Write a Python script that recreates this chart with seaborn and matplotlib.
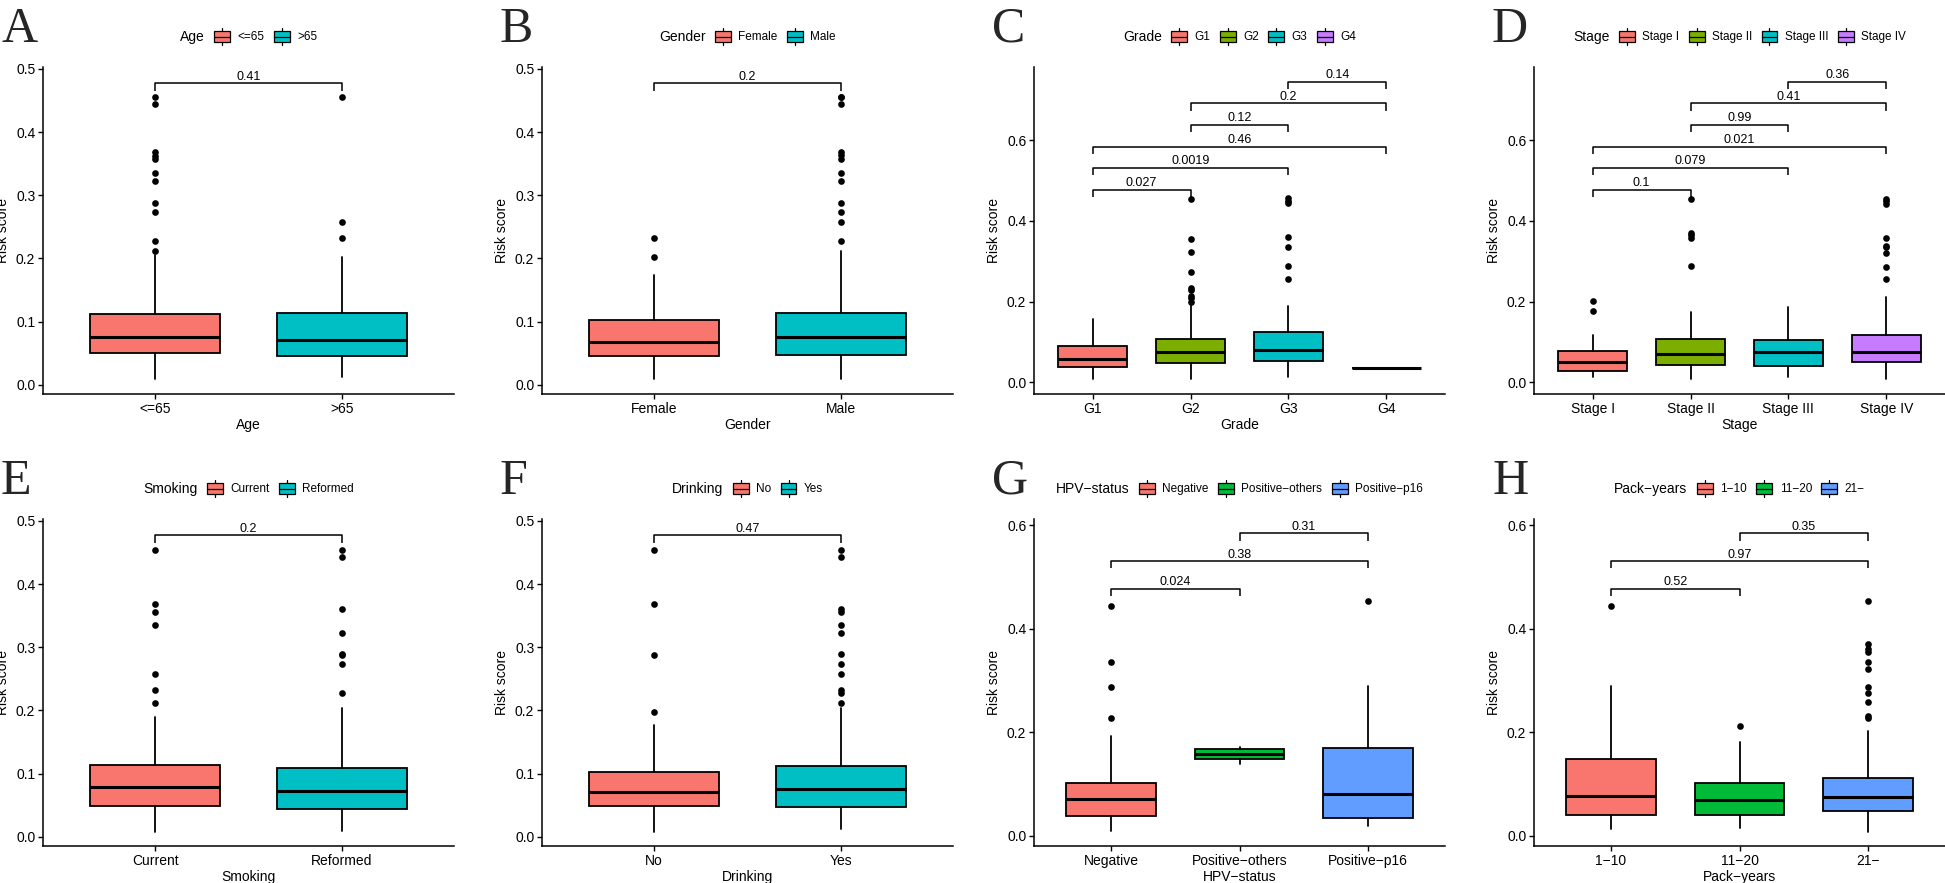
import matplotlib
matplotlib.use("Agg")
import matplotlib.pyplot as plt
from matplotlib.patches import Rectangle
from matplotlib.lines import Line2D
from matplotlib.offsetbox import AnchoredOffsetbox, HPacker, TextArea, DrawingArea
from itertools import combinations
import seaborn as sns
import pandas as pd

# box stats per group: [lower whisker, Q1, median, Q3, upper whisker]
age_groups = ["<=65", ">65"]
age_stats = [[0.009, 0.050, 0.075, 0.112, 0.205],
             [0.012, 0.045, 0.071, 0.113, 0.202]]
age_outliers = [[0.212, 0.228, 0.274, 0.288, 0.323, 0.335, 0.357, 0.362, 0.369, 0.444, 0.455],
                [0.233, 0.258, 0.455]]
age_pvals = ["0.41"]

gender_groups = ["Female", "Male"]
gender_stats = [[0.0095, 0.045, 0.068, 0.103, 0.174],
                [0.009, 0.047, 0.075, 0.113, 0.212]]
gender_outliers = [[0.202, 0.233],
                   [0.228, 0.258, 0.274, 0.288, 0.323, 0.335, 0.357, 0.363, 0.369, 0.444, 0.455, 0.456]]
gender_pvals = ["0.2"]

grade_groups = ["G1", "G2", "G3", "G4"]
grade_stats = [[0.009, 0.037, 0.058, 0.089, 0.157],
               [0.009, 0.047, 0.0745, 0.108, 0.195],
               [0.012, 0.053, 0.080, 0.124, 0.190],
               [0.035, 0.035, 0.035, 0.035, 0.035]]
grade_outliers = [[],
                  [0.200, 0.208, 0.214, 0.228, 0.233, 0.273, 0.323, 0.356, 0.454],
                  [0.257, 0.288, 0.335, 0.361, 0.444, 0.450, 0.456],
                  []]
grade_pvals = ["0.027", "0.0019", "0.46", "0.12", "0.2", "0.14"]

stage_groups = ["Stage I", "Stage II", "Stage III", "Stage IV"]
stage_stats = [[0.012, 0.029, 0.050, 0.077, 0.118],
               [0.009, 0.044, 0.070, 0.108, 0.175],
               [0.013, 0.041, 0.0745, 0.106, 0.187],
               [0.008, 0.0505, 0.076, 0.116, 0.211]]
stage_outliers = [[0.176, 0.201],
                  [0.288, 0.358, 0.364, 0.369, 0.454],
                  [],
                  [0.257, 0.286, 0.321, 0.334, 0.338, 0.357, 0.442, 0.449, 0.455]]
stage_pvals = ["0.1", "0.079", "0.021", "0.99", "0.41", "0.36"]

smoking_groups = ["Current", "Reformed"]
smoking_stats = [[0.008, 0.049, 0.078, 0.114, 0.190],
                 [0.009, 0.044, 0.072, 0.108, 0.203]]
smoking_outliers = [[0.212, 0.233, 0.258, 0.335, 0.356, 0.369, 0.454],
                    [0.228, 0.274, 0.287, 0.289, 0.323, 0.361, 0.443, 0.454]]
smoking_pvals = ["0.2"]

drinking_groups = ["No", "Yes"]
drinking_stats = [[0.008, 0.049, 0.0705, 0.102, 0.177],
                  [0.012, 0.047, 0.075, 0.112, 0.203]]
drinking_outliers = [[0.198, 0.287, 0.369, 0.454],
                     [0.212, 0.228, 0.233, 0.258, 0.274, 0.289, 0.323, 0.335, 0.356, 0.361, 0.443, 0.454]]
drinking_pvals = ["0.47"]

hpv_groups = ["Negative", "Positive\u2212others", "Positive\u2212p16"]
hpv_stats = [[0.009, 0.0375, 0.070, 0.102, 0.192],
             [0.1385, 0.148, 0.158, 0.167, 0.172],
             [0.019, 0.035, 0.080, 0.170, 0.289]]
hpv_outliers = [[0.228, 0.287, 0.335, 0.444],
                [],
                [0.454]]
hpv_pvals = ["0.024", "0.38", "0.31"]

pack_groups = ["1\u221210", "11\u221220", "21\u2212"]
pack_stats = [[0.012, 0.039, 0.077, 0.149, 0.289],
              [0.015, 0.040, 0.0686, 0.101, 0.181],
              [0.008, 0.047, 0.0744, 0.111, 0.203]]
pack_outliers = [[0.443],
                 [0.212],
                 [0.228, 0.232, 0.258, 0.276, 0.287, 0.322, 0.335, 0.355, 0.361, 0.370, 0.454]]
pack_pvals = ["0.52", "0.97", "0.35"]

hue2 = ["#F8766D", "#00BFC4"]
hue3 = ["#F8766D", "#00BA38", "#619CFF"]
hue4 = ["#F8766D", "#7CAE00", "#00BFC4", "#C77CFF"]

ticks_05 = [0.0, 0.1, 0.2, 0.3, 0.4, 0.5]
ticks_06 = [0.0, 0.2, 0.4, 0.6]

panels = [
    dict(letter="A", title="Age", groups=age_groups, stats=age_stats, outliers=age_outliers,
         pvals=age_pvals, colors=hue2, ylim=(-0.0147, 0.503), yticks=ticks_05),
    dict(letter="B", title="Gender", groups=gender_groups, stats=gender_stats, outliers=gender_outliers,
         pvals=gender_pvals, colors=hue2, ylim=(-0.0147, 0.503), yticks=ticks_05),
    dict(letter="C", title="Grade", groups=grade_groups, stats=grade_stats, outliers=grade_outliers,
         pvals=grade_pvals, colors=hue4, ylim=(-0.029, 0.781), yticks=ticks_06),
    dict(letter="D", title="Stage", groups=stage_groups, stats=stage_stats, outliers=stage_outliers,
         pvals=stage_pvals, colors=hue4, ylim=(-0.029, 0.781), yticks=ticks_06),
    dict(letter="E", title="Smoking", groups=smoking_groups, stats=smoking_stats, outliers=smoking_outliers,
         pvals=smoking_pvals, colors=hue2, ylim=(-0.0147, 0.503), yticks=ticks_05),
    dict(letter="F", title="Drinking", groups=drinking_groups, stats=drinking_stats, outliers=drinking_outliers,
         pvals=drinking_pvals, colors=hue2, ylim=(-0.0147, 0.503), yticks=ticks_05),
    dict(letter="G", title="HPV\u2212status", groups=hpv_groups, stats=hpv_stats, outliers=hpv_outliers,
         pvals=hpv_pvals, colors=hue3, ylim=(-0.020, 0.612), yticks=ticks_06),
    dict(letter="H", title="Pack\u2212years", groups=pack_groups, stats=pack_stats, outliers=pack_outliers,
         pvals=pack_pvals, colors=hue3, ylim=(-0.020, 0.612), yticks=ticks_06),
]

sns.set_style("ticks")
plt.rcParams['font.family'] = ['Liberation Sans', 'DejaVu Sans']

W, H = 1945, 883
fig = plt.figure(figsize=(W / 100, H / 100), dpi=100)

col_left = [43, 542, 1034, 1534]
row_top = [67, 519]
ax_w, ax_h = 411, 327


def add_key(ax, title, groups, colors):
    items = [TextArea(title, textprops=dict(fontsize=10, color="black"))]
    for g, c in zip(groups, colors):
        da = DrawingArea(12, 12, 0, 0)
        da.add_artist(Line2D([6, 6], [0, 12], color="black", lw=0.9))
        da.add_artist(Rectangle((0.3, 1.8), 11.4, 8.4, facecolor=c, edgecolor="black", lw=0.9))
        da.add_artist(Line2D([0.3, 11.7], [6, 6], color="black", lw=0.9))
        lab = TextArea(g, textprops=dict(fontsize=8.5, color="black"))
        items.append(HPacker(children=[da, lab], pad=0, sep=5, align="center"))
    box = HPacker(children=items, pad=0, sep=6.5, align="center")
    anc = AnchoredOffsetbox(loc="center", child=box, pad=0, borderpad=0, frameon=False,
                            bbox_to_anchor=(0.5, 1.093), bbox_transform=ax.transAxes)
    ax.add_artist(anc)


for k, p in enumerate(panels):
    r, c = divmod(k, 4)
    left = col_left[c] / W
    bottom = 1 - (row_top[r] + ax_h) / H
    ax = fig.add_axes([left, bottom, ax_w / W, ax_h / H])

    groups = p["groups"]
    n = len(groups)
    pos = list(range(n))
    stats = [dict(whislo=s[0], q1=s[1], med=s[2], q3=s[3], whishi=s[4], fliers=[]) for s in p["stats"]]
    bp = ax.bxp(stats, positions=pos, widths=0.7, patch_artist=True, showcaps=False, showfliers=False,
                boxprops=dict(edgecolor="black", linewidth=1.3),
                whiskerprops=dict(color="black", linewidth=1.3),
                medianprops=dict(color="black", linewidth=2.2))
    for patch, col in zip(bp["boxes"], p["colors"]):
        patch.set_facecolor(col)

    # outliers
    fl = pd.DataFrame([(g, v) for g, vals in zip(groups, p["outliers"]) for v in vals],
                      columns=["group", "score"])
    sns.stripplot(data=fl, x="group", y="score", order=groups, jitter=False, color="black",
                  size=4.8, linewidth=0, ax=ax, zorder=3)

    # comparison brackets
    ylo, yhi = p["ylim"]
    tip = 0.022 * (yhi - ylo)
    for j, ((a, b), pv) in enumerate(zip(combinations(range(n), 2), p["pvals"])):
        y = 0.477 + 0.0535 * j
        ax.plot([a, a, b, b], [y - tip, y, y, y - tip], color="black", lw=1.1, solid_capstyle="butt")
        ax.text((a + b) / 2, y + 0.002 * (yhi - ylo), pv, ha="center", va="bottom", fontsize=9, color="black")

    ax.set_xlim(-0.6, n - 0.4)
    ax.set_ylim(ylo, yhi)
    ax.set_xticks(pos)
    ax.set_xticklabels(groups)
    ax.set_yticks(p["yticks"])
    ax.set_yticklabels([f"{t:.1f}" for t in p["yticks"]])
    ax.set_xlabel(p["title"], fontsize=10, color="black", labelpad=2)
    ax.set_ylabel("Risk score", fontsize=10, color="black", labelpad=4)
    ax.tick_params(axis="both", direction="out", length=3.5, width=1, color="black",
                   labelsize=10, labelcolor="black", pad=2)
    sns.despine(ax=ax)
    for s in ["left", "bottom"]:
        ax.spines[s].set_linewidth(1.1)
        ax.spines[s].set_color("black")

    add_key(ax, p["title"], groups, p["colors"])

    fig.text((col_left[c] - 42) / W, 1 - (row_top[r] - 25) / H, p["letter"],
             family=["Liberation Serif", "DejaVu Serif"], fontsize=36, va="baseline", ha="left")

fig.savefig("out.png", dpi=100)
